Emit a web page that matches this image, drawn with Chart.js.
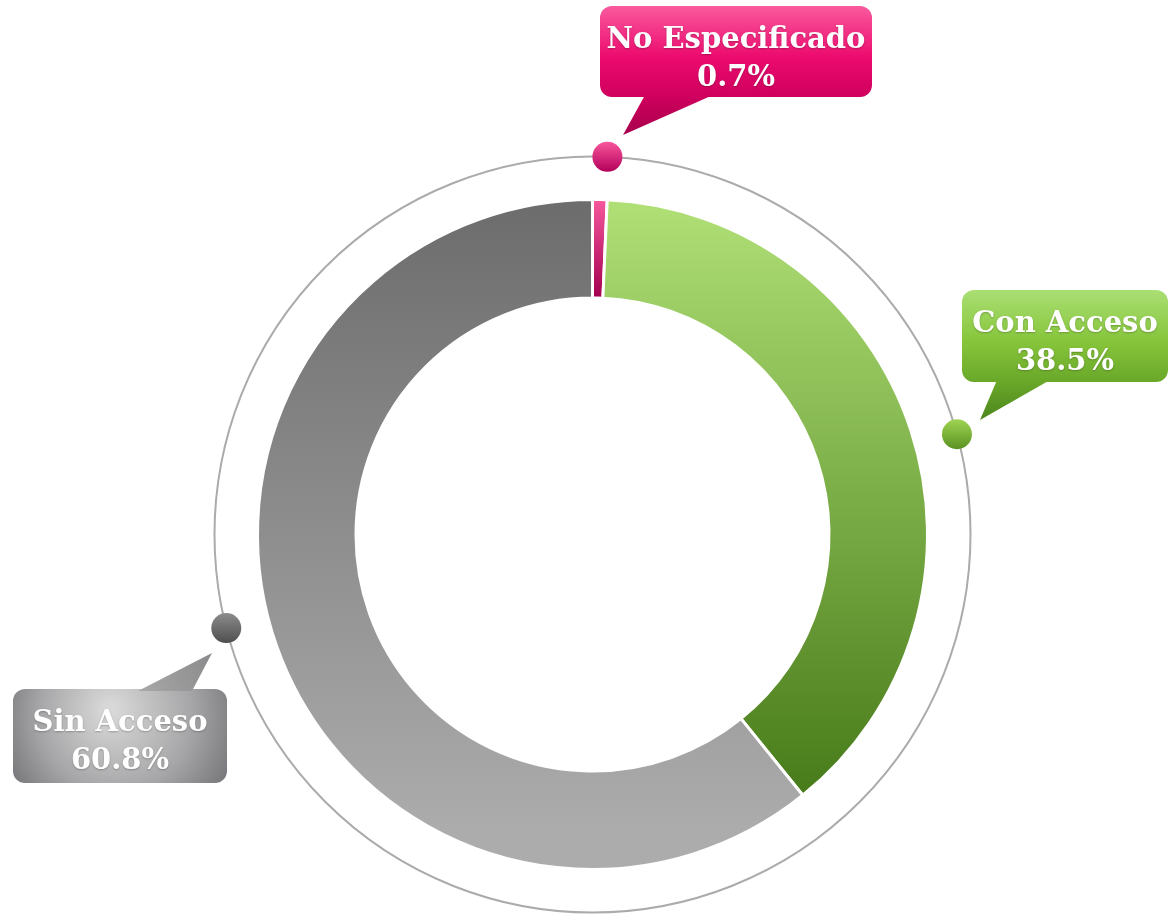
<!DOCTYPE html>
<html>
<head>
<meta charset="utf-8">
<script src="https://cdn.jsdelivr.net/npm/chart.js@4"></script>
<style>
  html, body { margin: 0; padding: 0; background: #fff; }
  canvas { display: block; }
</style>
</head>
<body>
<canvas id="accessChart" width="1169" height="914"></canvas>
<script>
// data
const labels = ['No Especificado', 'Con Acceso', 'Sin Acceso'];
const values = [0.7, 38.5, 60.8];

// colours per slice: [top, bottom]
const sliceColors = [['#f75a9f', '#a3004f'], ['#b0e076', '#487c1a'], ['#6c6c6c', '#acacac']];

// callout boxes (layout only)
const callouts = [
    { x: 600, y: 6, w: 272, h: 91, tail: [[645, 97], [713, 97], [623, 135]], tx: 736 },
    { x: 962, y: 290, w: 206, h: 92, tail: [[997, 382], [1050, 382], [980, 420]], tx: 1065 },
    { x: 13, y: 689, w: 214, h: 94, tail: [[138, 689], [192, 689], [212, 653]], tx: 120 }
];
const dotNudge = [1.0, 2.8, 5.1]; // degrees

function sliceFill(context) {
    const chart = context.chart;
    const area = chart.chartArea;
    if (!area) return null;
    const i = context.dataIndex;
    const c = chart.ctx;
    let g;
    if (i === 0) {
        g = c.createLinearGradient(0, area.top, 0, area.top + 100);
    } else if (i === 1) {
        g = c.createLinearGradient(0, area.top, 0, area.bottom - 80);
    } else {
        g = c.createLinearGradient(0, area.top, 0, area.bottom - 40);
    }
    g.addColorStop(0, sliceColors[i][0]);
    g.addColorStop(1, sliceColors[i][1]);
    return g;
}

function boxFill(c, i, b) {
    let g;
    if (i === 0) {
        g = c.createLinearGradient(0, b.y, 0, b.tail[2][1]);
        g.addColorStop(0, '#fa5a9e');
        g.addColorStop(0.4, '#ec0a6e');
        g.addColorStop(0.7, '#cf005e');
        g.addColorStop(1, '#a8004c');
    } else if (i === 1) {
        g = c.createLinearGradient(0, b.y, 0, b.tail[2][1]);
        g.addColorStop(0, '#aadf74');
        g.addColorStop(0.4, '#86c53a');
        g.addColorStop(0.7, '#6aa82a');
        g.addColorStop(1, '#4c861c');
    } else {
        g = c.createRadialGradient(b.x + b.w / 2 - 10, b.y + 20, 5, b.x + b.w / 2, b.y + 30, 135);
        g.addColorStop(0, '#d8d8d8');
        g.addColorStop(0.55, '#a6a6a8');
        g.addColorStop(1, '#6c6c70');
    }
    return g;
}

const decorations = {
    id: 'decorations',
    afterDatasetsDraw(chart) {
        const c = chart.ctx;
        const meta = chart.getDatasetMeta(0);
        const arc0 = meta.data[0];
        const cx = arc0.x, cy = arc0.y;
        const ringR = arc0.outerRadius + 43;

        c.save();
        // outer thin ring
        c.beginPath();
        c.arc(cx, cy, ringR, 0, Math.PI * 2);
        c.strokeStyle = '#ababab';
        c.lineWidth = 2;
        c.stroke();

        // callouts
        meta.data.forEach((arc, i) => {
            const b = callouts[i];
            c.fillStyle = boxFill(c, i, b);
            c.beginPath();
            c.roundRect(b.x, b.y, b.w, b.h, 12);
            c.fill();
            c.beginPath();
            c.moveTo(b.tail[0][0], b.tail[0][1] + (i === 2 ? 2 : -2));
            c.lineTo(b.tail[1][0], b.tail[1][1] + (i === 2 ? 2 : -2));
            c.lineTo(b.tail[2][0], b.tail[2][1]);
            c.closePath();
            if (i === 2) {
                const tg = c.createLinearGradient(b.tail[2][0], b.tail[2][1], b.tail[0][0], b.tail[0][1]);
                tg.addColorStop(0, '#8a8a8c');
                tg.addColorStop(1, '#a8a8a8');
                c.fillStyle = tg;
            }
            c.fill();

            // text
            c.font = 'bold 29px "DejaVu Serif"';
            c.textAlign = 'center';
            c.textBaseline = 'middle';
            c.fillStyle = '#fff';
            c.shadowColor = 'rgba(0,0,0,0.25)';
            c.shadowBlur = 2;
            c.shadowOffsetY = 1;
            c.fillText(labels[i], b.tx, b.y + 34);
            c.fillText(values[i].toFixed(1) + '%', b.tx, b.y + 72);
            c.shadowColor = 'transparent';
            c.shadowBlur = 0;
            c.shadowOffsetY = 0;

            // dot on the ring
            const a = (arc.startAngle + arc.endAngle) / 2 + dotNudge[i] * Math.PI / 180;
            const dx = cx + ringR * Math.cos(a);
            const dy = cy + ringR * Math.sin(a);
            const dg = c.createLinearGradient(0, dy - 15, 0, dy + 15);
            dg.addColorStop(0, ['#f8559c', '#9fd452', '#8c8c8c'][i]);
            dg.addColorStop(1, ['#b3005a', '#5a9222', '#4e4e4e'][i]);
            c.beginPath();
            c.arc(dx, dy, 15, 0, Math.PI * 2);
            c.fillStyle = dg;
            c.fill();
        });
        c.restore();
    }
};

new Chart(document.getElementById('accessChart'), {
    type: 'doughnut',
    data: {
        labels: labels,
        datasets: [{
            data: values,
            backgroundColor: sliceFill,
            borderColor: '#ffffff',
            borderWidth: 3,
            hoverOffset: 0
        }]
    },
    options: {
        responsive: false,
        animation: false,
        cutout: '70.6%',
        layout: { padding: { left: 256, right: 240, top: 198, bottom: 43 } },
        plugins: {
            legend: { display: false },
            tooltip: { enabled: false }
        }
    },
    plugins: [decorations]
});
</script>
</body>
</html>
